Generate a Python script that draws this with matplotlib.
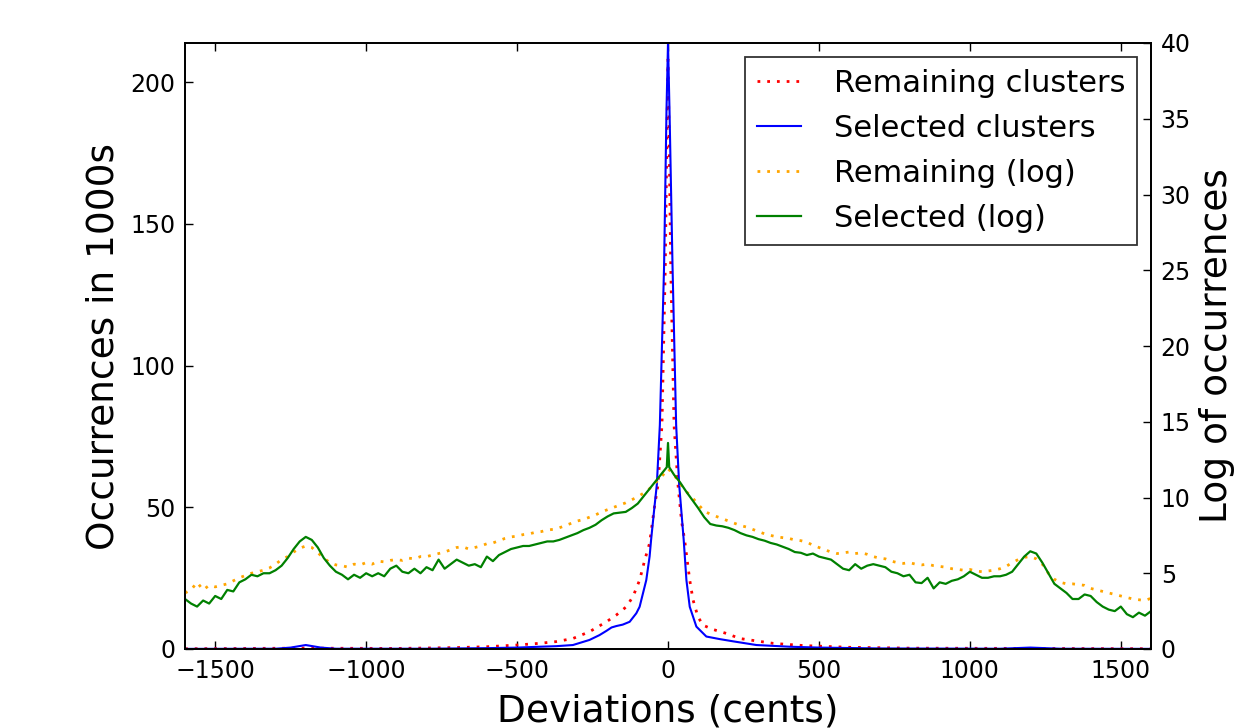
import numpy as np
import matplotlib
matplotlib.use("Agg")
import matplotlib.pyplot as plt

# ---------------- data ----------------
# Linear series (occurrences in 1000s)
sel_x = [-1600, -1300, -1250, -1200, -1150, -1100, -800, -600, -500, -425, -370,
         -315, -260, -227, -204, -187, -171, -150, -127, -105, -94, -83, -72, -61,
         -56, -45, -37, -27, -13, -5, 0, 5, 15, 27, 37, 52, 61, 72, 94, 127, 171,
         216, 293, 404, 500, 700, 1100, 1150, 1200, 1250, 1300, 1600]
sel_y = [0.05, 0.1, 0.5, 1.4, 0.5, 0.1, 0.1, 0.3, 0.5, 0.8, 1.0,
         1.4, 3.2, 4.9, 6.4, 7.6, 8.1, 8.6, 9.6, 12.6, 14.9, 19.6, 24.3, 32.6,
         38.5, 50.0, 58.0, 79.0, 135.0, 190.0, 213.8, 190.0, 135.0, 79.0, 58.0, 38.5, 24.3, 14.9, 7.9, 4.4, 3.5,
         2.7, 1.4, 0.8, 0.5, 0.2, 0.1, 0.3, 0.5, 0.3, 0.1, 0.05]

rem_x = [-1600, -1200, -900, -700, -600, -500, -426, -371, -315, -260, -204, -171,
         -138, -116, -94, -77, -61, -45, -33, -20, -9, -2.5, 0, 2.5, 9, 20, 33, 45,
         55, 72, 83, 99, 116, 149, 193, 238, 348, 450, 600, 800, 1200, 1600]
rem_y = [0.1, 0.3, 0.2, 0.5, 0.8, 1.4, 2.0, 2.6, 3.7, 6.1, 9.6, 12.0,
         14.9, 18.5, 24.3, 31.4, 37.3, 50.0, 58.0, 79.0, 135.0, 190.0, 208.0, 190.0, 135.0, 79.0, 58.0, 45.0,
         38.5, 24.3, 17.3, 11.4, 8.4, 6.9, 5.5, 3.7, 2.0, 1.2, 0.6, 0.3, 0.2, 0.1]

# Log series (natural log of occurrences), sampled every 20 cents
log_x = list(range(-1600, 1601, 20))
rem_log = [3.7, 3.9, 4.4, 3.9, 4.2, 4.1, 4.2, 4.3, 4.5, 4.7,
           4.85, 5.0, 5.1, 5.2, 5.35, 5.6, 5.9, 6.1, 6.4, 6.65,
           6.8, 6.7, 6.35, 6.0, 5.7, 5.55, 5.5, 5.4, 5.6, 5.55,
           5.7, 5.6, 5.8, 5.75, 5.85, 5.9, 5.85, 6.0, 5.95, 6.1,
           6.1, 6.2, 6.3, 6.4, 6.55, 6.7, 6.75, 6.6, 6.7, 6.8,
           6.95, 7.0, 7.15, 7.3, 7.4, 7.45, 7.55, 7.6, 7.7, 7.75,
           7.85, 7.9, 8.0, 8.15, 8.3, 8.45, 8.55, 8.7, 8.85, 9.05,
           9.2, 9.35, 9.5, 9.65, 9.85, 10.05, 10.3, 10.6, 11.0, 11.4,
           11.9,
           11.5, 10.9, 10.4, 10.0, 9.55, 9.1, 8.9, 8.75, 8.6, 8.45,
           8.3, 8.15, 8.05, 7.9, 7.75, 7.6, 7.5, 7.4, 7.35, 7.3,
           7.2, 7.15, 7.05, 6.85, 6.7, 6.55, 6.4, 6.3, 6.35, 6.4,
           6.3, 6.35, 6.25, 6.1, 6.0, 5.95, 5.8, 5.7, 5.65, 5.7,
           5.6, 5.55, 5.6, 5.5, 5.45, 5.4, 5.3, 5.25, 5.2, 5.25,
           5.15, 5.1, 5.15, 5.2, 5.3, 5.45, 5.7, 5.9, 6.05, 6.1,
           5.95, 5.6, 5.0, 4.6, 4.4, 4.3, 4.3, 4.25, 4.2, 4.0,
           3.9, 3.8, 3.7, 3.6, 3.5, 3.4, 3.3, 3.25, 3.2, 3.35]

sel_log_x = [-1600, -1580, -1560, -1540, -1520, -1500, -1480, -1460, -1440, -1420,
             -1400, -1380, -1360, -1340, -1320, -1300, -1280, -1260, -1240, -1220,
             -1200, -1180, -1160, -1140, -1120, -1100, -1080, -1060, -1040, -1020,
             -1000, -980, -960, -940, -920, -900, -880, -860, -840, -820,
             -800, -780, -760, -740, -720, -700, -680, -660, -640, -620,
             -600, -580, -560, -540, -520, -500, -480, -460, -440, -420,
             -400, -380, -360, -340, -320, -300, -280, -260, -240, -220,
             -200, -180, -160, -140, -120, -100, -80, -60, -40, -20,
             -4, 0, 4,
             20, 40, 60, 80, 100, 120, 140, 160, 180, 200,
             220, 240, 260, 280, 300, 320, 340, 360, 380, 400,
             420, 440, 460, 480, 500, 520, 540, 560, 580, 600,
             620, 640, 660, 680, 700, 720, 740, 760, 780, 800,
             820, 840, 860, 880, 900, 920, 940, 960, 980, 1000,
             1020, 1040, 1060, 1080, 1100, 1120, 1140, 1160, 1180, 1200,
             1220, 1240, 1260, 1280, 1300, 1320, 1340, 1360, 1380, 1400,
             1420, 1440, 1460, 1480, 1500, 1520, 1540, 1560, 1580, 1600]
sel_log = [3.3, 3.0, 2.8, 3.2, 3.0, 3.5, 3.3, 3.9, 3.8, 4.4,
           4.6, 4.9, 4.8, 5.0, 5.0, 5.2, 5.5, 6.0, 6.6, 7.1,
           7.4, 7.2, 6.7, 6.0, 5.5, 5.1, 4.9, 4.6, 4.9, 4.7,
           5.0, 4.8, 5.0, 4.8, 5.3, 5.5, 5.1, 5.0, 5.3, 5.0,
           5.4, 5.2, 5.9, 5.3, 5.6, 5.9, 5.7, 5.5, 5.6, 5.4,
           6.1, 5.8, 6.2, 6.4, 6.6, 6.7, 6.8, 6.8, 6.9, 7.0,
           7.1, 7.1, 7.2, 7.35, 7.5, 7.65, 7.85, 8.0, 8.2, 8.5,
           8.75, 8.95, 9.0, 9.05, 9.3, 9.6, 10.1, 10.6, 11.1, 11.6,
           12.0, 13.6, 12.0,
           11.5, 11.0, 10.4, 9.85, 9.3, 8.7, 8.25, 8.15, 8.1, 8.0,
           7.85, 7.65, 7.5, 7.4, 7.25, 7.15, 7.0, 6.9, 6.75, 6.6,
           6.4, 6.35, 6.2, 6.3, 6.1, 6.0, 5.9, 5.6, 5.3, 5.2,
           5.6, 5.3, 5.5, 5.6, 5.5, 5.4, 5.1, 5.0, 4.8, 4.9,
           4.4, 4.35, 4.7, 4.0, 4.4, 4.3, 4.5, 4.6, 4.8, 5.1,
           4.9, 4.7, 4.7, 4.8, 4.8, 4.9, 5.1, 5.6, 6.1, 6.45,
           6.3, 5.7, 5.0, 4.3, 4.0, 3.7, 3.3, 3.3, 3.6, 3.5,
           3.1, 2.8, 2.6, 2.5, 2.8, 2.3, 2.1, 2.4, 2.2, 2.5]

labels = ["Remaining clusters", "Selected clusters", "Remaining (log)", "Selected (log)"]

# ---------------- figure ----------------
fig = plt.figure(figsize=(12.52, 7.28), dpi=100)
ax = fig.add_axes([185/1252, 79/728, (1151-185)/1252, (649-43)/728])
ax2 = ax.twinx()

l1, = ax.plot(rem_x, rem_y, color="red", lw=2.0, linestyle=(0, (1, 2.5)))
l2, = ax.plot(sel_x, sel_y, color="blue", lw=1.5)
l3, = ax2.plot(log_x, rem_log, color="orange", lw=2.0, linestyle=(0, (1, 2.5)))
l4, = ax2.plot(sel_log_x, sel_log, color="green", lw=1.6)

ax.set_xlim(-1600, 1600)
ax.set_ylim(0, 213.8)
ax2.set_ylim(0, 40)
ax.set_xticks([-1500, -1000, -500, 0, 500, 1000, 1500])
ax.set_yticks([0, 50, 100, 150, 200])
ax2.set_yticks(range(0, 41, 5))

for a in (ax, ax2):
    for s in a.spines.values():
        s.set_linewidth(1.3)
ax.tick_params(direction="in", length=6, width=1, labelsize=17, top=True, right=False, pad=7)
ax2.tick_params(direction="in", length=6, width=1, labelsize=17, pad=7)

ax.set_xlabel("Deviations (cents)", fontsize=27, labelpad=8)
ax.set_ylabel("Occurrences in 1000s", fontsize=27, labelpad=6)
ax2.set_ylabel("Log of occurrences", fontsize=27, labelpad=6)

leg = ax2.legend([l1, l2, l3, l4], labels, loc="upper right", fontsize=22,
                 frameon=True, fancybox=False, handlelength=1.45, handletextpad=1.05,
                 labelspacing=0.52, borderaxespad=0.45, borderpad=0.4)
leg.get_frame().set_edgecolor("black")
leg.get_frame().set_linewidth(1.3)

fig.savefig("out.png", dpi=100)
